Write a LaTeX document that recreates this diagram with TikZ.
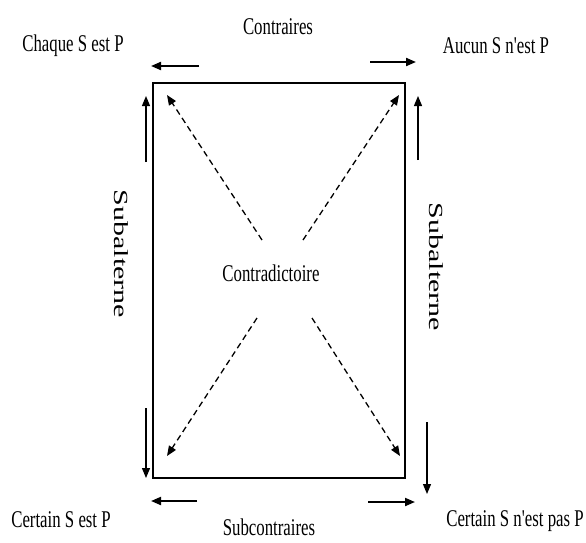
\documentclass[tikz,border=0pt]{standalone}
\usepackage{fontspec}
\setmainfont{Liberation Serif}[FakeStretch=0.7,Ligatures=TeXOff]
\newfontfamily\sidefont{Liberation Serif}[FakeStretch=1.5]
\usetikzlibrary{arrows.meta,positioning}

\begin{document}
\begin{tikzpicture}[x=1pt,y=-1pt,>={Triangle[length=10pt,width=8pt]},
 lbl/.style={font=\fontsize{24}{28}\selectfont,inner sep=0pt,anchor=base},
 side/.style={font=\sidefont\fontsize{20}{24}\selectfont,inner sep=0pt,rotate=-90},
 harr/.style={->,line width=2pt},
 varr/.style={->,line width=1.2pt},
 diag/.style={->,line width=1.3pt,dash pattern=on 6pt off 4pt}]
\useasboundingbox (0,0) rectangle (586,542);
% square of opposition
\coordinate (A) at (153,83);
\coordinate (E) at (405,83);
\coordinate (I) at (153,478);
\coordinate (O) at (405,478);
\draw[line width=2pt] (A) rectangle (O);
\node[lbl] (a) at (73,51) {Chaque S est P};
\node[lbl] (e) at (496,53) {Aucun S n'est P};
\node[lbl] (i) at (61,527) {Certain S est P};
\node[lbl] (o) at (515,526) {Certain S n'est pas P};
\node[lbl] (contr) at (278,34) {Contraires};
\node[lbl] (sub) at (269,535) {Subcontraires};
\node[lbl] (cd) at (271,281) {Contradictoire};
\node[side] (sl) at (121,254) {Subalterne};
\node[side] (sr) at (436,267) {Subalterne};
% horizontal arrows
\coordinate (t1) at (199,66);  \coordinate (t2) at (151,66);
\coordinate (t3) at (370,62);  \coordinate (t4) at (416,62);
\coordinate (b1) at (197,501); \coordinate (b2) at (151,501);
\coordinate (b3) at (368,502); \coordinate (b4) at (415,502);
\draw[harr] (t1)--(t2);
\draw[harr] (t3)--(t4);
\draw[harr] (b1)--(b2);
\draw[harr] (b3)--(b4);
% vertical arrows
\coordinate (l1) at (146,162); \coordinate (l2) at (146,96);
\coordinate (l3) at (146,408); \coordinate (l4) at (146,478);
\coordinate (r1) at (418,160); \coordinate (r2) at (418,96);
\coordinate (r3) at (427,422); \coordinate (r4) at (427,494);
\draw[varr] (l1)--(l2);
\draw[varr] (l3)--(l4);
\draw[varr] (r1)--(r2);
\draw[varr] (r3)--(r4);
% diagonals
\coordinate (d1) at (262,240); \coordinate (d2) at (167,95);
\coordinate (d3) at (303,240); \coordinate (d4) at (399,95);
\coordinate (d5) at (257,318); \coordinate (d6) at (167,456);
\coordinate (d7) at (312,318); \coordinate (d8) at (400,456);
\draw[diag] (d1)--(d2);
\draw[diag] (d3)--(d4);
\draw[diag] (d5)--(d6);
\draw[diag] (d7)--(d8);
\end{tikzpicture}
\end{document}
